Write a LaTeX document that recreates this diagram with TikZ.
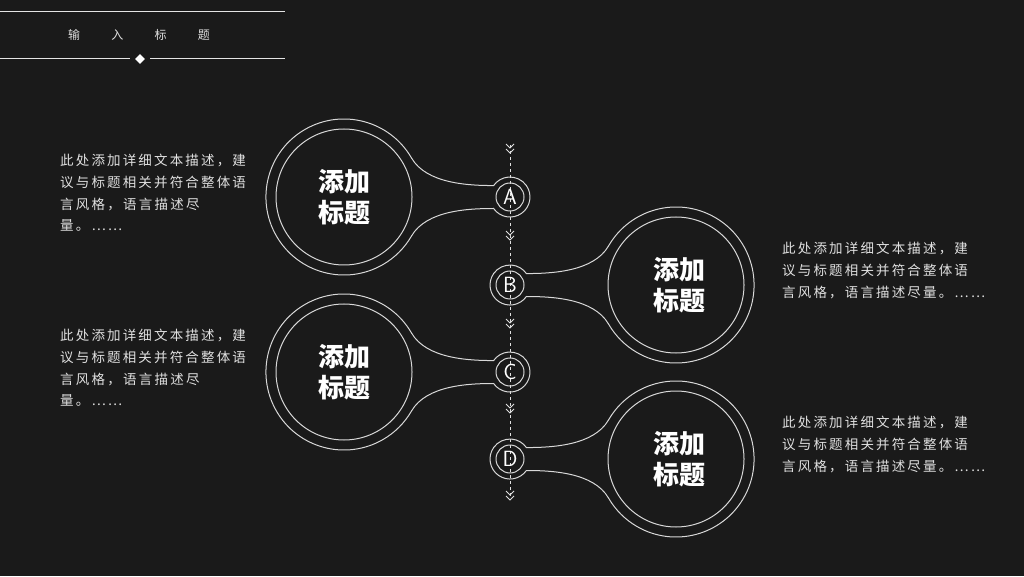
\documentclass[tikz,border=0pt]{standalone}
\usepackage{fontspec}
\usepackage{tikz}
\usetikzlibrary{shapes.geometric}
\newfontfamily\cjk{Noto Sans CJK SC}
\newfontfamily\cjkwide[LetterSpace=16]{Noto Sans CJK SC}
\definecolor{bgdark}{HTML}{1A1A1A}
\definecolor{ringgray}{HTML}{D8D8D8}
\definecolor{txtgray}{HTML}{E0E0E0}

% one bubble: big ring + neck + small ring, mirrored by #3
\newcommand{\bubble}[3]{%
  \begin{scope}[shift={(#1,#2)}, xscale=#3]
    \draw[ring] (67.5,39) arc[start angle=30, end angle=330, radius=78]
      .. controls +(60:30) and +(180:24) .. (149.6,-11.5)
      arc[start angle=215, end angle=505, radius=20]
      .. controls +(180:24) and +(-60:30) .. (67.5,39);
    \draw[ring] (0,0) circle[radius=68];
    \draw[ring] (166,0) circle[radius=14];
  \end{scope}}
\newcommand{\chev}[1]{%
  \draw[chevline] (506,#1+6) -- (510,#1+2) -- (514,#1+6);
  \draw[chevline] (506,#1+1) -- (510,#1-3) -- (514,#1+1);}

\begin{document}
\begin{tikzpicture}[x=1pt, y=1pt,
  ring/.style = {draw=ringgray, line width=1pt},
  chevline/.style = {draw=ringgray!80, line width=0.9pt},
  title/.style = {text=white, font=\cjk\bfseries\fontsize{26}{31}\selectfont, align=center},
  letter/.style = {text=white, font=\sffamily\fontsize{22}{22}\selectfont},
  body/.style = {text=txtgray, font=\cjkwide\fontsize{13.5}{21.7}\selectfont, align=left, anchor=north west, inner sep=0pt}]
\fill[bgdark] (0,0) rectangle (1024,576);
\useasboundingbox (0,0) rectangle (1024,576);

% header
\draw[ringgray!70, line width=1pt] (0,564) -- (285,564);
\draw[ringgray!70, line width=1pt] (0,517) -- (130,517);
\draw[ringgray!70, line width=1pt] (150,517) -- (285,517);
\node[fill=white, diamond, inner sep=2.5pt] (dia) at (140,517) {};
\node[text=txtgray, font=\cjk\fontsize{12}{12}\selectfont] (head) at (139,541) {输\hspace{2.6em}入\hspace{2.6em}标\hspace{2.6em}题};

% axis
\coordinate (top) at (510,431);
\coordinate (bot) at (510,76);
\draw[ringgray!80, dashed, line width=0.8pt] (top) -- (bot);
\foreach \yy in {426,339,251,166,79} {\chev{\yy}}

\bubble{344}{379}{1}
\bubble{676}{291}{-1}
\bubble{344}{204}{1}
\bubble{676}{117}{-1}

\node[title] (t1) at (344,379) {添加\\标题};
\node[title] (t2) at (679,291) {添加\\标题};
\node[title] (t3) at (344,204) {添加\\标题};
\node[title] (t4) at (679,117) {添加\\标题};
\node[letter] (la) at (510,379) {A};
\node[letter] (lb) at (510,291) {B};
\node[letter] (lc) at (510,204) {C};
\node[letter] (ld) at (510,117) {D};

\node[body] (d1) at (60,422) {此处添加详细文本描述，建\\议与标题相关并符合整体语\\言\,风\,格\,，\,语\,言\,描\,述\,尽\\量。……};
\node[body] (d3) at (60,247) {此处添加详细文本描述，建\\议与标题相关并符合整体语\\言\,风\,格\,，\,语\,言\,描\,述\,尽\\量。……};
\node[body] (d2) at (782,334) {此处添加详细文本描述，建\\议与标题相关并符合整体语\\言风格，语言描述尽量。……};
\node[body] (d4) at (782,160) {此处添加详细文本描述，建\\议与标题相关并符合整体语\\言风格，语言描述尽量。……};
\end{tikzpicture}
\end{document}
